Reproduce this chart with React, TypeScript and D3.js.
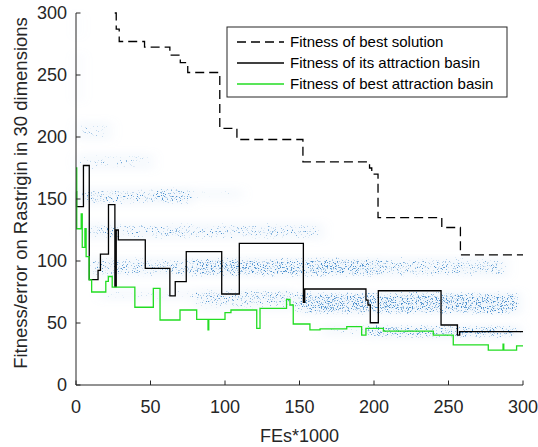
import React from 'react';
import * as d3 from 'd3';

// ---- data ----
const xTicks = [0, 50, 100, 150, 200, 250, 300];
const yTicks = [0, 50, 100, 150, 200, 250, 300];

const seriesNames = [
  'Fitness of best solution',
  'Fitness of its attraction basin',
  'Fitness of best attraction basin',
];

// step-after series [FEs*1000, fitness]
const bestSolution: [number, number][] = [
  [26, 300], [27, 287], [29, 277], [46, 272.5], [63, 266], [70, 260], [75, 252],
  [96.5, 207], [108, 198], [152.3, 180], [197, 175], [198.5, 170], [202.7, 135],
  [245.5, 127], [258, 105], [300, 105],
];

const itsBasin: [number, number][] = [
  [0, 156], [0.4, 143.8], [5, 177], [8.9, 85], [14.8, 92.5], [16.4, 105.6],
  [21.8, 145.5], [26.1, 79.3], [27.0, 125], [28.4, 117], [46.5, 94], [63, 71.8],
  [66.6, 83.3], [74, 107.5], [97.8, 73.4], [109.6, 114.2], [152.6, 66.6],
  [153.5, 77.4], [194.6, 68.5], [196, 64.5], [197.5, 50.2], [202.9, 76],
  [245, 48.4], [256, 40.3], [257.5, 43], [300, 43],
];

const bestBasin: [number, number][] = [
  [0, 175], [0.5, 126], [3.5, 138], [4.2, 111], [6, 126], [6.8, 103.5],
  [8.8, 84.7], [10.5, 75], [20, 83.5], [21.7, 87.5], [24.3, 79], [39.5, 62.7],
  [51.9, 78], [56.4, 52.4], [69.8, 60.5], [81, 53], [88.6, 44.4], [89.1, 53],
  [100, 58.3], [104, 60.5], [121.3, 45.7], [123.5, 61.8], [141.3, 69],
  [143.6, 64.5], [145.8, 49.2], [157, 44.4], [163.8, 45.2], [181.7, 47],
  [191.7, 40.3], [194.6, 45.7], [206.3, 43.5], [239.8, 40.3], [253.2, 32.3],
  [276.7, 28.2], [286.6, 33], [287.1, 28.2], [295.7, 31.5], [300, 31.5],
];

// scatter clouds of sampled fitness values (bands)
const bandX0 = [0, 0, 0, 0, 52, 3, 8, 80, 16, 80, 150, 165, 195, 0];
const bandX1 = [4, 24, 52, 78, 112, 166, 290, 205, 145, 152, 298, 205, 298, 3];
const bandY = [248, 205, 180, 152, 154, 124, 95, 95, 73, 68, 66, 44, 43, 290];
const bandHalf = [20, 8, 7, 7, 5, 7, 8, 7, 5, 8, 9, 5, 5, 10];
const bandDensity = [0.55, 0.6, 0.6, 0.75, 0.5, 0.7, 0.75, 0.85, 0.55, 0.65, 1, 0.6, 1, 0.45];

const W = 538;
const H = 447;

export default function App() {
  const x = d3.scaleLinear().domain([0, 300]).range([76, 523]);
  const y = d3.scaleLinear().domain([0, 300]).range([385, 13]);
  const line = d3
    .line<[number, number]>()
    .x((d) => x(d[0]))
    .y((d) => y(d[1]))
    .curve(d3.curveStepAfter);

  const font = 'Liberation Sans, Arial, Helvetica, sans-serif';
  const axisColor = '#262626';
  const green = '#22dd22';

  const legendX = 227;
  const legendY = 27;
  const legendRows = [42, 63, 84];

  const bands = bandX0.map((x0, i) => (
    <rect
      key={i}
      x={x(x0)}
      y={y(bandY[i] + bandHalf[i])}
      width={x(bandX1[i]) - x(x0)}
      height={y(bandY[i] - bandHalf[i]) - y(bandY[i] + bandHalf[i])}
      fill="#000"
      fillOpacity={bandDensity[i]}
    />
  ));

  return (
    <svg
      width={W}
      height={H}
      style={{ position: 'absolute', left: 0, top: 0, background: '#fff' }}
      fontFamily={font}
    >
      <defs>
        <filter id="haze" filterUnits="userSpaceOnUse" x={0} y={0} width={W} height={H}>
          <feGaussianBlur in="SourceAlpha" stdDeviation="6 3.5" result="blur" />
          <feFlood floodColor="#a6c9e8" floodOpacity={0.16} result="c" />
          <feComposite in="c" in2="blur" operator="in" />
        </filter>
        <filter id="speckle" filterUnits="userSpaceOnUse" x={0} y={0} width={W} height={H}>
          <feGaussianBlur in="SourceAlpha" stdDeviation="6 3.5" result="blur" />
          <feTurbulence type="fractalNoise" baseFrequency="0.8" numOctaves={2} seed={7} result="noise" />
          <feColorMatrix
            in="noise"
            type="matrix"
            values="0 0 0 0 0  0 0 0 0 0  0 0 0 0 0  1 0 0 0 0"
            result="nA"
          />
          <feComposite in="blur" in2="nA" operator="arithmetic" k1={6} k2={-2.4} k3={0} k4={-0.85} result="m" />
          <feComponentTransfer in="m" result="m2">
            <feFuncA type="linear" slope={1.4} intercept={0} />
          </feComponentTransfer>
          <feFlood floodColor="#4f92cf" result="c" />
          <feComposite in="c" in2="m2" operator="in" />
        </filter>
      </defs>

      {/* scatter clouds */}
      <g filter="url(#haze)">{bands}</g>
      <g filter="url(#speckle)">{bands}</g>

      {/* lines */}
      <path d={line(itsBasin) || ''} fill="none" stroke="#000" strokeWidth={1.3} />
      <path d={line(bestBasin) || ''} fill="none" stroke={green} strokeWidth={1.3} />
      <path d={line(bestSolution) || ''} fill="none" stroke="#000" strokeWidth={1.3} strokeDasharray="9,5" />

      {/* axes */}
      <line x1={76} x2={76} y1={y(300)} y2={y(0)} stroke={axisColor} strokeWidth={1} />
      <line x1={76} x2={x(300)} y1={y(0)} y2={y(0)} stroke={axisColor} strokeWidth={1} />
      {yTicks.map((t) => (
        <g key={'y' + t}>
          <line x1={76} x2={80.5} y1={y(t)} y2={y(t)} stroke={axisColor} />
          <text x={67} y={y(t)} dy="0.36em" textAnchor="end" fontSize={18} fill={axisColor}>
            {t}
          </text>
        </g>
      ))}
      {xTicks.map((t) => (
        <g key={'x' + t}>
          <line x1={x(t)} x2={x(t)} y1={385} y2={380.5} stroke={axisColor} />
          <text x={x(t)} y={413} textAnchor="middle" fontSize={18} fill={axisColor}>
            {t}
          </text>
        </g>
      ))}
      <text x={x(150)} y={442} textAnchor="middle" fontSize={18} fill={axisColor}>
        FEs*1000
      </text>
      <text
        transform={`translate(27,${(y(0) + y(300)) / 2 - 6}) rotate(-90)`}
        textAnchor="middle"
        fontSize={18.5}
        fill={axisColor}
      >
        Fitness/error on Rastrigin in 30 dimensions
      </text>

      {/* legend */}
      <rect x={legendX} y={legendY} width={280} height={70} fill="#fff" stroke={axisColor} strokeWidth={1} />
      {seriesNames.map((name, i) => (
        <g key={name}>
          <line
            x1={237}
            x2={284}
            y1={legendRows[i]}
            y2={legendRows[i]}
            stroke={i === 2 ? green : '#000'}
            strokeWidth={1.3}
            strokeDasharray={i === 0 ? '9,5' : undefined}
          />
          <text x={290} y={legendRows[i]} dy="0.36em" fontSize={15} fill="#000">
            {name}
          </text>
        </g>
      ))}
    </svg>
  );
}
